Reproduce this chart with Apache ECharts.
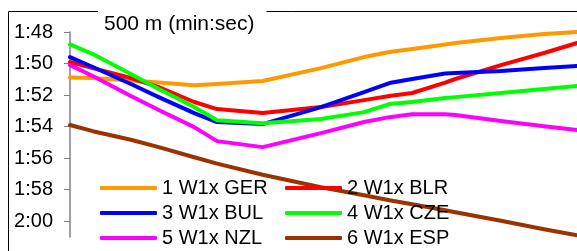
<!DOCTYPE html>
<html>
<head>
<meta charset="utf-8">
<script src="https://cdn.jsdelivr.net/npm/echarts@6/dist/echarts.min.js"></script>
<style>
html, body { margin: 0; padding: 0; background: #fff; }
#chart { width: 577px; height: 251px; }
</style>
</head>
<body>
<div id="chart"></div>
<script>
// distance along the course (m), shared by all crews
const dist = [0, 90, 240, 350, 490, 580, 760, 990, 1160, 1260, 1350, 1480, 1520, 1700, 1870, 2000];

// 500 m pace in seconds
const ger = [110.89, 110.92, 111.08, 111.21, 111.37, 111.30, 111.11, 110.29, 109.59, 109.27, 109.08, 108.79, 108.70, 108.38, 108.13, 108.00];
const blr = [109.90, 110.29, 110.92, 111.49, 112.44, 112.89, 113.14, 112.76, 112.32, 112.06, 111.87, 111.21, 110.98, 110.10, 109.33, 108.70];
const bul = [109.59, 110.22, 111.30, 112.13, 113.14, 113.71, 113.84, 112.76, 111.81, 111.24, 110.98, 110.63, 110.60, 110.48, 110.29, 110.16];
const cze = [108.79, 109.40, 110.67, 111.62, 112.76, 113.59, 113.78, 113.52, 113.08, 112.57, 112.44, 112.19, 112.13, 111.87, 111.62, 111.43];
const nzl = [110.10, 110.79, 112.06, 112.95, 114.03, 114.92, 115.30, 114.41, 113.71, 113.40, 113.21, 113.21, 113.27, 113.65, 113.97, 114.22];
const esp = [113.90, 114.29, 114.83, 115.30, 115.94, 116.35, 117.05, 117.84, 118.35, 118.67, 118.92, 119.30, 119.43, 119.97, 120.51, 120.89];

const names = ['1 W1x GER', '2 W1x BLR', '3 W1x BUL', '4 W1x CZE', '5 W1x NZL', '6 W1x ESP'];
const colors = ['#FF9900', '#FF0000', '#0000FF', '#00FF00', '#FF00FF', '#993300'];
const yTicks = [108, 110, 112, 114, 116, 118, 120];

function mmss(v) {
  const m = Math.floor(v / 60);
  const s = Math.round(v - m * 60);
  return m + ':' + (s < 10 ? '0' + s : s);
}

function pts(vals) {
  return vals.map((v, i) => [dist[i], v]);
}

const myChart = echarts.init(document.getElementById('chart'));
const all = [ger, blr, bul, cze, nzl, esp];

myChart.setOption({
  animation: false,
  textStyle: { fontFamily: 'Liberation Sans, Arial, sans-serif' },
  title: {
    text: '500 m (min:sec)',
    left: 98,
    top: 8,
    padding: [5, 12, 1, 6],
    backgroundColor: '#fff',
    textStyle: { fontSize: 21, fontWeight: 'normal', color: '#000', lineHeight: 23 }
  },
  graphic: [{
    type: 'rect',
    z: 0,
    shape: { x: 8.5, y: 11.5, width: 700, height: 400 },
    style: { fill: 'none', stroke: '#000', lineWidth: 1 }
  }],
  legend: [
    {
      data: [names[0], names[2], names[4]],
      orient: 'vertical', left: 100, top: 178, padding: 0,
      itemWidth: 57, itemHeight: 4, itemGap: 5, icon: 'roundRect',
      textStyle: { fontSize: 20, lineHeight: 20, color: '#000' }
    },
    {
      data: [names[1], names[3], names[5]],
      orient: 'vertical', left: 285, top: 178, padding: 0,
      itemWidth: 57, itemHeight: 4, itemGap: 5, icon: 'roundRect',
      textStyle: { fontSize: 20, lineHeight: 20, color: '#000' }
    }
  ],
  grid: { left: 70, right: 0, top: 32, bottom: 14, containLabel: false },
  xAxis: { type: 'value', min: 0, max: 2000, show: false },
  yAxis: {
    type: 'value',
    inverse: true,
    min: 108,
    max: 121,
    interval: 2,
    axisLine: { show: true, lineStyle: { color: '#808080', width: 1.5 } },
    axisTick: { show: true, length: 6, inside: false, customValues: yTicks, lineStyle: { color: '#808080', width: 1 } },
    axisLabel: { margin: 17, fontSize: 20, color: '#000', customValues: yTicks, formatter: v => mmss(v) },
    splitLine: { show: false }
  },
  series: all.map((vals, i) => ({
    name: names[i],
    type: 'line',
    data: pts(vals),
    showSymbol: false,
    symbol: 'none',
    color: colors[i],
    lineStyle: { width: 4, color: colors[i], cap: 'round', join: 'round' }
  }))
});
</script>
</body>
</html>
